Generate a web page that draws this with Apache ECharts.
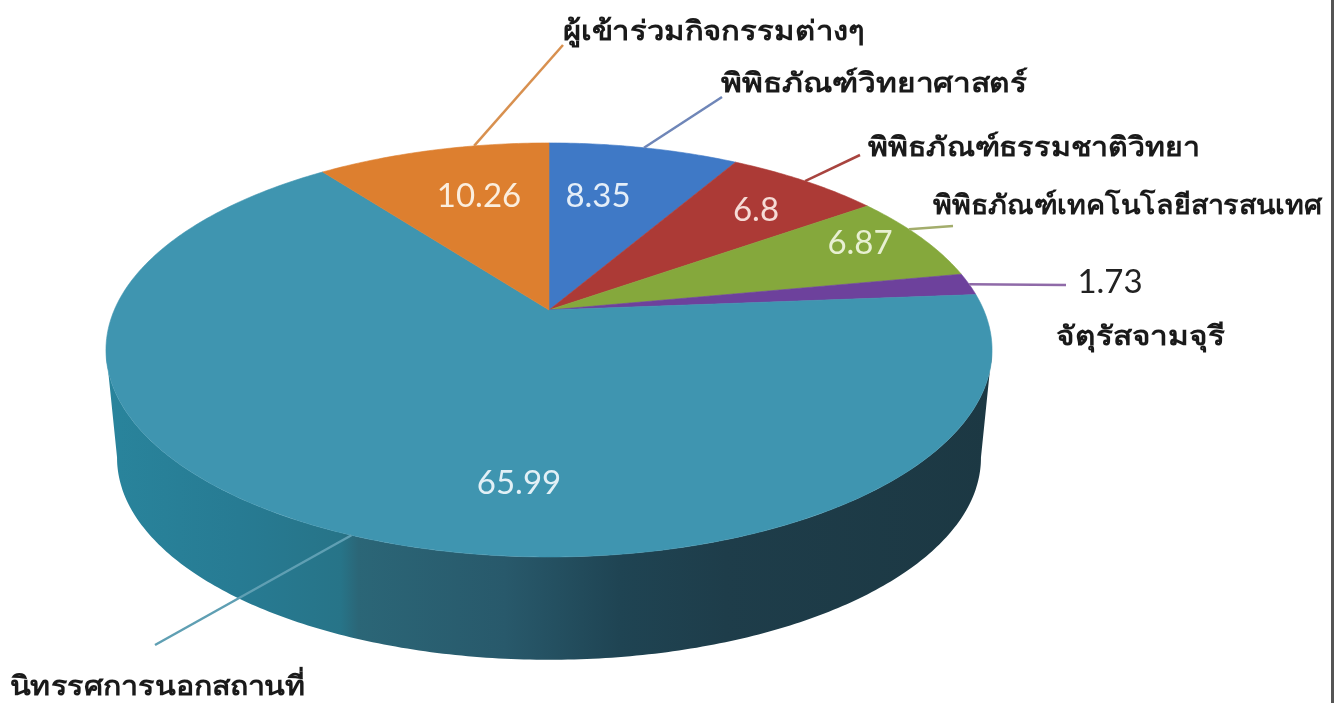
<!DOCTYPE html>
<html><head><meta charset="utf-8">
<style>html,body{margin:0;padding:0;background:#fff}#c{width:1334px;height:703px}</style>
<script src="https://cdn.jsdelivr.net/npm/echarts@6/dist/echarts.min.js"></script>
</head><body><div id="c"></div>
<script>
// Data, clockwise from 12 o'clock
const categories = ['พิพิธภัณฑ์วิทยาศาสตร์','พิพิธภัณฑ์ธรรมชาติวิทยา','พิพิธภัณฑ์เทคโนโลยีสารสนเทศ','จัตุรัสจามจุรี','นิทรรศการนอกสถานที่','ผู้เข้าร่วมกิจกรรมต่างๆ'];
const values = [8.35,6.8,6.87,1.73,65.99,10.26];
// Styling and layout, parallel to the data
const colors = ['#3f79c6','#ac3a36','#85a83c','#6d419c','#3f95b0','#dd7f2f'];
const lineColors = ['#6f86b8','#a8443f','#a3ad6c','#8f6aa8','#5f9fb3','#d8904f'];
const anchorFraction = [.5,.5,.38,.5,.49,.68];
const lineEnds = [[722,97],[860,155],[953,226],[1066,285],[155,645],[563,45]];
const namePos = [[721,84],[868,148],[933,206],[1056,337],[10,687],[563,32]];
const nameWidths = [307,332,389,169,295,302];
const valuePos = [[598,196],[756,210],[860,243],[1110,282],[519,483],[479,196]];
const valueColors = ['#e4eef8','#f6dcd6','#e8f0d2','#222222','#e2f0f6','#fbeede'];

// Perspective view of the round pie
const view = {cx:549, cy:310, f:434.7, g:199.3, k:0.193, depth:109, bottomScale:0.975};
function rim(theta, scale, dy){
  const u = Math.sin(theta), v = -Math.cos(theta), w = 1 - view.k*v;
  return [view.cx + scale*view.f*u/w, view.cy + dy + scale*view.g*v/w];
}
const total = values.reduce((a,b)=>a+b,0);
const starts = []; values.reduce((a,b,i)=>{starts[i]=a; return a+b;},0);
const angle = p => p/total*2*Math.PI;
function arc(a0,a1,scale,dy){
  const n = Math.max(4,Math.ceil((a1-a0)/0.012)), pts=[];
  for(let i=0;i<=n;i++) pts.push(rim(a0+(a1-a0)*i/n,scale,dy));
  return pts;
}
function sliceItem(params, api){
  const i = params.dataIndex, a0 = angle(starts[i]), a1 = angle(starts[i]+api.value(0));
  return {type:'polygon', shape:{points:[[view.cx,view.cy]].concat(arc(a0,a1,1,0))},
    style:{fill:colors[i], stroke:colors[i], lineWidth:0.6}};
}
function wallItem(){
  const all = arc(0,2*Math.PI,1,0);
  let iMax=0,iMin=0; all.forEach((p,j)=>{if(p[0]>all[iMax][0])iMax=j; if(p[0]<all[iMin][0])iMin=j;});
  const aR = iMax/(all.length-1)*2*Math.PI, aL = iMin/(all.length-1)*2*Math.PI;
  const top = arc(aR,aL,1,0), bot = arc(aR,aL,view.bottomScale,view.depth).reverse();
  return {type:'polygon', shape:{points:top.concat(bot)}, style:{
    fill:new echarts.graphic.LinearGradient(0,0,1,0,[
      {offset:0,color:'#29849c'},{offset:.15,color:'#277b93'},{offset:.265,color:'#277488'},
      {offset:.285,color:'#2b6677'},{offset:.45,color:'#28596b'},{offset:.58,color:'#1f4453'},
      {offset:.7,color:'#1e3d4a'},{offset:1,color:'#1c3843'}])}};
}
function leaderItem(params, api){
  const i = params.dataIndex, a = angle(starts[i]+api.value(0)*anchorFraction[i]);
  return {type:'line', shape:{x1:rim(a,1,0)[0],y1:rim(a,1,0)[1],x2:lineEnds[i][0],y2:lineEnds[i][1]},
    style:{stroke:lineColors[i],lineWidth:2.5}};
}
const thaiFont = '"Noto Sans","DejaVu Sans",sans-serif';
const nameFont = 'bold 27px '+thaiFont;
const ctx = document.createElement('canvas').getContext('2d');
function stretch(i){ ctx.font = nameFont; return nameWidths[i]/ctx.measureText(categories[i]).width; }
function textItem(params, api){
  const i = params.dataIndex;
  return {type:'group',children:[
    {type:'text',x:namePos[i][0],y:namePos[i][1],scaleX:stretch(i),style:{text:categories[i],font:nameFont,fill:'#1a1a1a',textAlign:'left',textVerticalAlign:'middle'}},
    {type:'text',x:valuePos[i][0],y:valuePos[i][1],style:{text:String(api.value(0)),font:'33px Lato',fill:valueColors[i],textAlign:'center',textVerticalAlign:'middle'}}
  ]};
}
const data = values.map((v,i)=>({name:categories[i],value:v}));
const base = {type:'custom',coordinateSystem:'none',silent:true,animation:false,clip:false};
const chart = echarts.init(document.getElementById('c'),null,{renderer:'canvas'});
chart.setOption({
  backgroundColor:'#ffffff',
  animation:false,
  series:[
    Object.assign({},base,{name:'wall',data:[data[4]],renderItem:wallItem,z:1}),
    Object.assign({},base,{name:'slices',data,renderItem:sliceItem,z:2}),
    Object.assign({},base,{name:'leaders',data,renderItem:leaderItem,z:3}),
    Object.assign({},base,{name:'labels',data,renderItem:textItem,z:4})
  ],
  graphic:[{type:'rect',shape:{x:1331,y:0,width:3,height:703},style:{fill:'#555555'},z:10,silent:true}]
});
</script></body></html>
